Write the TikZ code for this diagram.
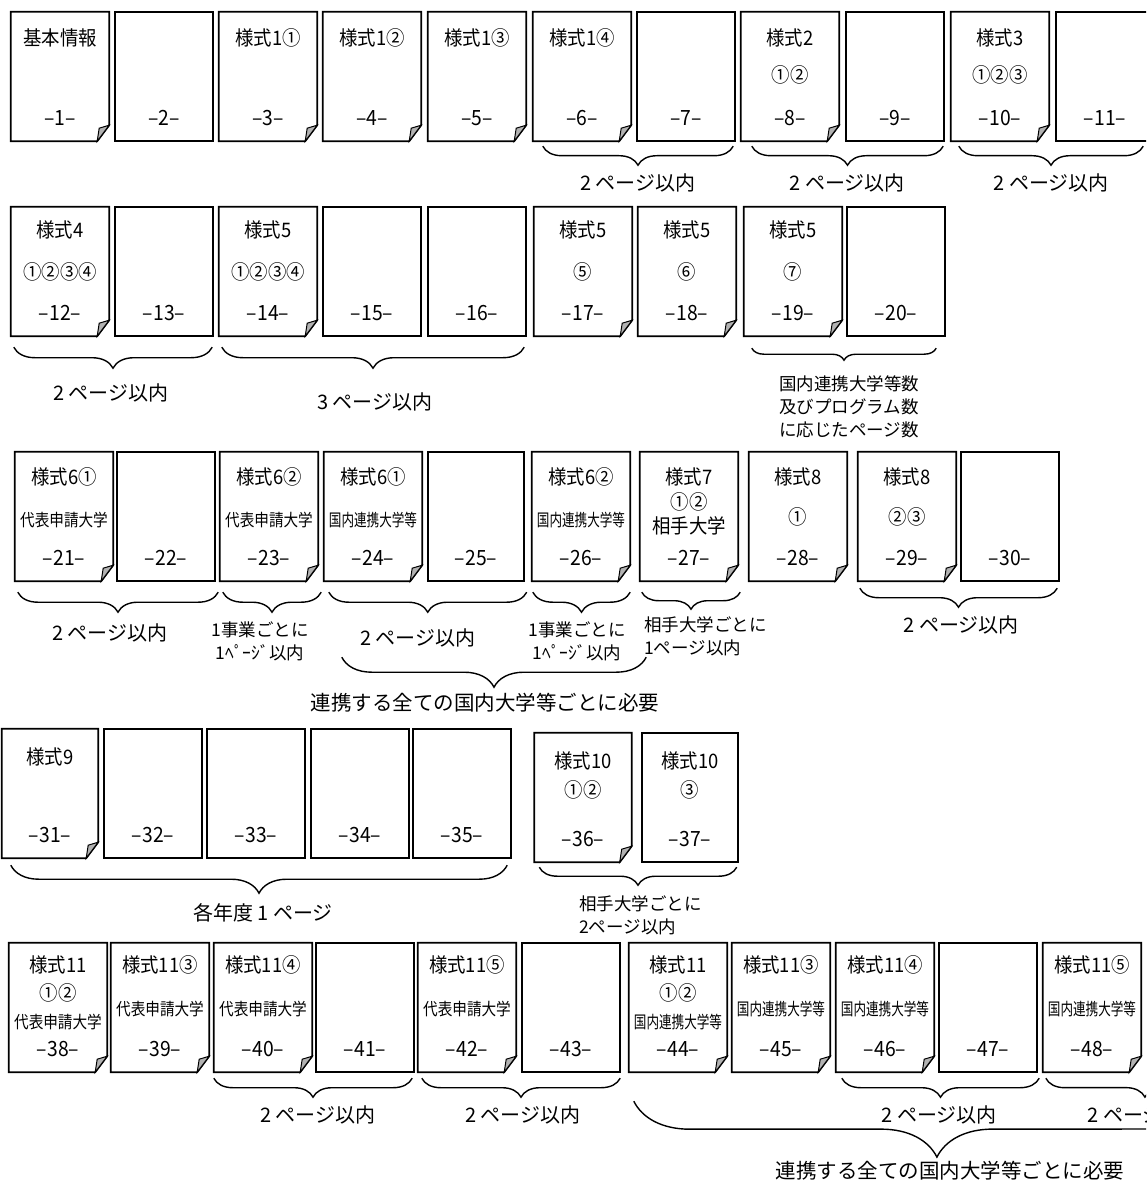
\documentclass[tikz,border=0pt]{standalone}
\usepackage{fontspec}
\setmainfont{Noto Sans CJK JP}
\newfontfamily\gothic[FakeStretch=0.92]{Noto Sans CJK JP}
\newfontfamily\gothicn[FakeStretch=0.86]{Noto Sans CJK JP}
\newfontfamily\gothicnn[FakeStretch=0.74]{Noto Sans CJK JP}
\usetikzlibrary{positioning,decorations.pathreplacing}

\tikzset{
  pg/.style={rectangle, minimum width=98pt, minimum height=129pt, inner sep=0pt},
  edge/.style={draw=black, line width=1.8pt},
  flap/.style={draw=black, fill=black!30, line width=1pt},
  ttl/.style={font=\gothic\fontsize{20}{20}\selectfont, inner sep=0pt},
  num/.style={font=\gothic\fontsize{21}{21}\selectfont, inner sep=0pt},
  sub/.style={font=\gothicn\fontsize{17}{17}\selectfont, inner sep=0pt},
  subn/.style={font=\gothicnn\fontsize{17}{17}\selectfont, inner sep=0pt},
  lbl/.style={font=\fontsize{20}{21}\selectfont, inner sep=0pt},
  note/.style={font=\fontsize{17.5}{23}\selectfont, inner sep=0pt, align=center},
  big/.style={font=\fontsize{20.5}{21}\selectfont, inner sep=0pt},
  brc/.style={draw, line width=1.4pt, decorate, decoration={brace, mirror, amplitude=#1}},
  brc/.default=20pt
}

\begin{document}
\begin{tikzpicture}[x=1pt,y=-1pt]
\useasboundingbox (0,0) rectangle (1146,1185);
\clip (0,0) rectangle (1146,1185);

% row 1
\node[pg] (p1) at (60,76.5) {};
\node[pg] (p2) at (164,76.5) {};
\node[pg] (p3) at (268,76.5) {};
\node[pg] (p4) at (372,76.5) {};
\node[pg] (p5) at (477,76.5) {};
\node[pg] (p6) at (582,76.5) {};
\node[pg] (p7) at (686,76.5) {};
\node[pg] (p8) at (790,76.5) {};
\node[pg] (p9) at (895,76.5) {};
\node[pg] (p10) at (1000,76.5) {};
\node[pg] (p11) at (1105,76.5) {};
% row 2
\node[pg] (p12) at (60,271.5) {};
\node[pg] (p13) at (164,271.5) {};
\node[pg] (p14) at (268,271.5) {};
\node[pg] (p15) at (372,271.5) {};
\node[pg] (p16) at (477,271.5) {};
\node[pg] (p17) at (583,271.5) {};
\node[pg] (p18) at (687,271.5) {};
\node[pg] (p19) at (793,271.5) {};
\node[pg] (p20) at (896,271.5) {};
% row 3
\node[pg] (p21) at (64,516.5) {};
\node[pg] (p22) at (166,516.5) {};
\node[pg] (p23) at (269,516.5) {};
\node[pg] (p24) at (373,516.5) {};
\node[pg, minimum width=95pt] (p25) at (476,516.5) {};
\node[pg] (p26) at (581,516.5) {};
\node[pg] (p27) at (689,516.5) {};
\node[pg] (p28) at (798,516.5) {};
\node[pg] (p29) at (907,516.5) {};
\node[pg] (p30) at (1010,516.5) {};
% row 4
\node[pg, minimum width=96pt] (p31) at (50,793.5) {};
\node[pg] (p32) at (153,793.5) {};
\node[pg] (p33) at (256,793.5) {};
\node[pg] (p34) at (360,793.5) {};
\node[pg] (p35) at (462,793.5) {};
\node[pg, minimum width=97pt] (p36) at (583,797.5) {};
\node[pg, minimum width=95pt] (p37) at (690,797.5) {};
% row 5
\node[pg] (p38) at (58,1007.5) {};
\node[pg] (p39) at (160,1007.5) {};
\node[pg] (p40) at (263,1007.5) {};
\node[pg] (p41) at (365,1007.5) {};
\node[pg] (p42) at (467,1007.5) {};
\node[pg] (p43) at (571,1007.5) {};
\node[pg] (p44) at (678,1007.5) {};
\node[pg] (p45) at (781,1007.5) {};
\node[pg] (p46) at (885,1007.5) {};
\node[pg] (p47) at (988,1007.5) {};
\node[pg] (p48) at (1092,1007.5) {};

% outlines
\foreach \n in {2,7,9,11,13,15,16,20,22,25,30,32,33,34,35,37,41,43,47}
  \draw[edge] (p\n.north west) rectangle (p\n.south east);
\foreach \n in {1,3,4,5,6,8,10,12,14,17,18,19,21,23,24,26,27,28,29,31,36,38,39,40,42,44,45,46,48} {
  \draw[edge] (p\n.south west) -- (p\n.north west) -- (p\n.north east)
    -- ([yshift=16pt]p\n.south east) -- ([xshift=-12pt]p\n.south east) -- cycle;
  \draw[flap] ([yshift=16pt]p\n.south east) -- ([xshift=-10pt,yshift=13pt]p\n.south east)
    -- ([xshift=-12pt]p\n.south east) -- cycle;
}

% page numbers
\foreach \n in {1,...,48}
  \node[num] (n\n) at ([yshift=23pt]p\n.south) {–\n–};

% titles
\foreach \n/\t in {1/基本情報,3/様式1①,4/様式1②,5/様式1③,6/様式1④,8/様式2,10/様式3}
  \node[ttl] (t\n) at ([yshift=-26pt]p\n.north) {\t};
\foreach \n/\t in {12/様式4,14/様式5,17/様式5,18/様式5,19/様式5}
  \node[ttl] (t\n) at ([yshift=-23pt]p\n.north) {\t};
\foreach \n/\t in {21/様式6①,23/様式6②,24/様式6①,26/様式6②,27/様式7,28/様式8,29/様式8}
  \node[ttl] (t\n) at ([yshift=-25pt]p\n.north) {\t};
\foreach \n/\t in {31/様式9,36/様式10,37/様式10}
  \node[ttl] (t\n) at ([yshift=-28pt]p\n.north) {\t};
\foreach \n/\t in {38/様式11,39/様式11③,40/様式11④,42/様式11⑤,44/様式11,45/様式11③,46/様式11④,48/様式11⑤}
  \node[ttl] (t\n) at ([yshift=-22pt]p\n.north) {\t};

% circled numbers
\foreach \n/\t in {8/①②,10/①②③}
  \node[ttl] (m\n) at ([yshift=-63pt]p\n.north) {\t};
\foreach \n/\t in {12/①②③④,14/①②③④,17/⑤,18/⑥,19/⑦,28/①,29/②③}
  \node[ttl] (m\n) at ([yshift=-65pt]p\n.north) {\t};
\foreach \n/\t in {36/①②,37/③}
  \node[ttl] (m\n) at ([yshift=-57pt]p\n.north) {\t};
\foreach \n in {27,38,44}
  \node[ttl] (m\n) at ([yshift=-50pt]p\n.north) {①②};

% university lines
\node[sub] (u21) at ([yshift=-68pt]p21.north) {代表申請大学};
\node[sub] (u23) at ([yshift=-68pt]p23.north) {代表申請大学};
\node[subn] (u24) at ([yshift=-68pt]p24.north) {国内連携大学等};
\node[subn] (u26) at ([yshift=-68pt]p26.north) {国内連携大学等};
\node[ttl] (u27) at ([yshift=-74pt]p27.north) {相手大学};
\node[sub] (u38) at ([yshift=-79pt]p38.north) {代表申請大学};
\node[subn] (u44) at ([yshift=-79pt]p44.north) {国内連携大学等};
\foreach \n in {39,40,42}
  \node[sub] (u\n) at ([yshift=-66pt]p\n.north) {代表申請大学};
\foreach \n in {45,46,48}
  \node[subn] (u\n) at ([yshift=-66pt]p\n.north) {国内連携大学等};

% braces row 1
\draw[brc=19pt] ([xshift=10pt,yshift=-5pt]p6.south west) -- ([xshift=-2pt,yshift=-5pt]p7.south east);
\draw[brc=19pt] ([xshift=11pt,yshift=-5pt]p8.south west) -- ([xshift=-1pt,yshift=-5pt]p9.south east);
\draw[brc=19pt] ([xshift=8pt,yshift=-5pt]p10.south west) -- ([xshift=-11pt,yshift=-5pt]p11.south east);
\node[lbl] (l6) at (638,183) {2 ページ以内};
\node[lbl] (l8) at (847,183) {2 ページ以内};
\node[lbl] (l10) at (1051,183) {2 ページ以内};

% braces row 2
\draw[brc=21pt] ([xshift=3pt,yshift=-11pt]p12.south west) -- ([xshift=-1pt,yshift=-11pt]p13.south east);
\draw[brc=21pt] ([xshift=3pt,yshift=-11pt]p14.south west) -- ([xshift=-2pt,yshift=-11pt]p16.south east);
\draw[brc=12pt] ([xshift=8pt,yshift=-12pt]p19.south west) -- ([xshift=-9pt,yshift=-12pt]p20.south east);
\node[lbl] (l12) at (111,393) {2 ページ以内};
\node[lbl] (l14) at (375,402) {3 ページ以内};
\node[note] (l19) at (849,407) {国内連携大学等数\\及びプログラム数\\に応じたページ数};

% braces row 3
\draw[brc] ([xshift=3pt,yshift=-11pt]p21.south west) -- ([xshift=3pt,yshift=-11pt]p22.south east);
\draw[brc] ([xshift=3pt,yshift=-11pt]p23.south west) -- ([xshift=3pt,yshift=-11pt]p23.south east);
\draw[brc] ([xshift=5pt,yshift=-11pt]p24.south west) -- ([xshift=3pt,yshift=-11pt]p25.south east);
\draw[brc] ([xshift=1pt,yshift=-11pt]p26.south west) -- ([xshift=0pt,yshift=-11pt]p26.south east);
\draw[brc=17pt] ([xshift=2pt,yshift=-11pt]p27.south west) -- ([xshift=2pt,yshift=-11pt]p27.south east);
\draw[brc=19pt] ([xshift=2pt,yshift=-7pt]p29.south west) -- ([xshift=-2pt,yshift=-7pt]p30.south east);
\draw[brc=30pt] ([xshift=18pt,yshift=-76pt]p24.south west) -- ([xshift=16pt,yshift=-76pt]p26.south east);
\node[lbl] (l21) at (110,633) {2 ページ以内};
\node[note] (l23) at (260,641.5) {1事業ごとに\\1ﾍﾟｰｼﾞ以内};
\node[lbl] (l24) at (418,638) {2 ページ以内};
\node[note] (l26) at (577,641.5) {1事業ごとに\\1ﾍﾟｰｼﾞ以内};
\node[note, align=left, anchor=west] (l27) at (644,636.5) {相手大学ごとに\\1ページ以内};
\node[lbl] (l29) at (961,625) {2 ページ以内};
\node[big] (l24b) at (485,703) {連携する全ての国内大学等ごとに必要};

% braces row 4
\draw[brc=28pt] ([xshift=9pt,yshift=-7pt]p31.south west) -- ([xshift=-4pt,yshift=-7pt]p35.south east);
\draw[brc=18pt] ([xshift=5pt,yshift=-5pt]p36.south west) -- ([xshift=-1pt,yshift=-5pt]p37.south east);
\node[lbl] (l31) at (263,913) {各年度 1 ページ};
\node[note, align=left, anchor=west] (l36) at (579,915.5) {相手大学ごとに\\2ページ以内};

% braces row 5
\coordinate (e48) at (1244,1078);
\coordinate (e49) at (1240,1101);
\draw[brc=19pt] ([yshift=-6pt]p40.south west) -- ([xshift=-2pt,yshift=-6pt]p41.south east);
\draw[brc=19pt] ([xshift=4pt,yshift=-6pt]p42.south west) -- ([yshift=-6pt]p43.south east);
\draw[brc=19pt] ([xshift=6pt,yshift=-6pt]p46.south west) -- ([xshift=2pt,yshift=-6pt]p47.south east);
\draw[brc=19pt] ([xshift=3pt,yshift=-6pt]p48.south west) -- (e48);
\draw[brc=56pt] ([xshift=5pt,yshift=-29pt]p44.south west) -- (e49);
\node[lbl] (l40) at (318,1115) {2 ページ以内};
\node[lbl] (l42) at (523,1115) {2 ページ以内};
\node[lbl] (l46) at (939,1115) {2 ページ以内};
\node[lbl] (l48) at (1145,1115) {2 ページ以内};
\node[big] (l44b) at (950,1171) {連携する全ての国内大学等ごとに必要};
\end{tikzpicture}
\end{document}
